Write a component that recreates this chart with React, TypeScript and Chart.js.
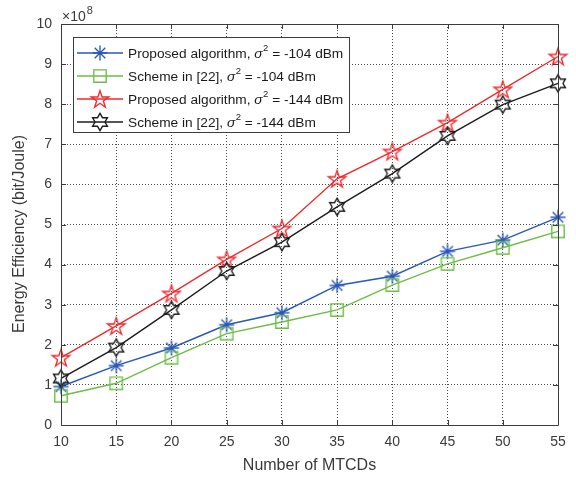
import React, { useEffect, useRef } from 'react';
import { Chart, registerables } from 'chart.js';

Chart.register(...registerables);

const FONT = "'Liberation Sans', Arial, Helvetica, sans-serif";

const mtcds = [10, 15, 20, 25, 30, 35, 40, 45, 50, 55];
const proposed104 = [0.96, 1.48, 1.92, 2.5, 2.8, 3.48, 3.71, 4.33, 4.61, 5.18];
const scheme104 = [0.73, 1.04, 1.68, 2.28, 2.57, 2.87, 3.49, 4.02, 4.42, 4.83];
const proposed144 = [1.68, 2.47, 3.28, 4.13, 4.9, 6.14, 6.82, 7.54, 8.37, 9.19];
const scheme144 = [1.16, 1.93, 2.87, 3.84, 4.56, 5.44, 6.27, 7.21, 7.99, 8.52];

const xTicks = [10, 15, 20, 25, 30, 35, 40, 45, 50, 55];
const yTicks = [0, 1, 2, 3, 4, 5, 6, 7, 8, 9, 10];

const seriesValues = [proposed104, scheme104, proposed144, scheme144];
const seriesColors = ['#2a58b8', '#6cbd45', '#ee2a2e', '#1c1c1c'];
const seriesMarkers = ['asterisk', 'square', 'pentagram', 'hexagram'];
const legendPrefixes = ['Proposed algorithm, ', 'Scheme in [22], ', 'Proposed algorithm, ', 'Scheme in [22], '];
const legendSuffixes = [' = -104 dBm', ' = -104 dBm', ' = -144 dBm', ' = -144 dBm'];

const xTitle = 'Number of MTCDs';
const yTitle = 'Energy Efficiency (bit/Joule)';
const exponentBase = '\u00d710';
const exponentPower = '8';

function makeMarker(kind: string, color: string): HTMLCanvasElement {
  const s = 24;
  const c = document.createElement('canvas');
  c.width = s;
  c.height = s;
  const ctx = c.getContext('2d')!;
  const m = s / 2;
  ctx.strokeStyle = color;
  ctx.lineWidth = 1.35;
  ctx.lineJoin = 'miter';
  ctx.beginPath();
  if (kind === 'asterisk') {
    const r = 7.5;
    [0, 45, 90, 135].forEach((deg) => {
      const a = (deg * Math.PI) / 180;
      ctx.moveTo(m - r * Math.cos(a), m - r * Math.sin(a));
      ctx.lineTo(m + r * Math.cos(a), m + r * Math.sin(a));
    });
  } else if (kind === 'square') {
    const h = 6.2;
    ctx.rect(m - h, m - h, 2 * h, 2 * h);
  } else {
    const n = kind === 'pentagram' ? 5 : 6;
    const R = kind === 'pentagram' ? 9.2 : 8.6;
    const r = kind === 'pentagram' ? R * 0.382 : R * 0.577;
    for (let i = 0; i < 2 * n; i++) {
      const a = -Math.PI / 2 + (i * Math.PI) / n;
      const rr = i % 2 === 0 ? R : r;
      const px = m + rr * Math.cos(a);
      const py = m + rr * Math.sin(a) + (kind === 'pentagram' ? 0.8 : 0);
      if (i === 0) ctx.moveTo(px, py);
      else ctx.lineTo(px, py);
    }
    ctx.closePath();
  }
  ctx.stroke();
  return c;
}

export default function App() {
  const ref = useRef<HTMLCanvasElement | null>(null);

  useEffect(() => {
    document.body.style.margin = '0';
    const canvas = ref.current;
    if (!canvas) return;
    const markers = seriesMarkers.map((k, i) => makeMarker(k, seriesColors[i]));

    const framePlugin = {
      id: 'matlabFrame',
      afterDraw(chart: any) {
        const { ctx, chartArea } = chart;
        const { left, right, top, bottom } = chartArea;
        const xs = chart.scales.x;
        const ys = chart.scales.y;
        ctx.save();
        // box
        ctx.strokeStyle = '#3c3c3c';
        ctx.lineWidth = 1;
        ctx.setLineDash([]);
        ctx.beginPath();
        ctx.rect(Math.round(left) + 0.5, Math.round(top) + 0.5, Math.round(right - left), Math.round(bottom - top));
        ctx.stroke();
        // inward ticks
        const tl = 5;
        ctx.beginPath();
        xTicks.forEach((v) => {
          const px = Math.round(xs.getPixelForValue(v)) + 0.5;
          ctx.moveTo(px, bottom);
          ctx.lineTo(px, bottom - tl);
          ctx.moveTo(px, top);
          ctx.lineTo(px, top + tl);
        });
        yTicks.forEach((v) => {
          const py = Math.round(ys.getPixelForValue(v)) + 0.5;
          ctx.moveTo(left, py);
          ctx.lineTo(left + tl, py);
          ctx.moveTo(right, py);
          ctx.lineTo(right - tl, py);
        });
        ctx.stroke();

        // axis titles
        ctx.fillStyle = '#3a3a3a';
        ctx.font = `16px ${FONT}`;
        ctx.textAlign = 'center';
        ctx.textBaseline = 'middle';
        ctx.fillText(xTitle, (left + right) / 2, 466);
        ctx.save();
        ctx.translate(20, 234);
        ctx.rotate(-Math.PI / 2);
        ctx.fillText(yTitle, 0, 0);
        ctx.restore();

        // exponent label
        ctx.fillStyle = '#3a3a3a';
        ctx.textBaseline = 'alphabetic';
        ctx.textAlign = 'left';
        ctx.font = `14px ${FONT}`;
        ctx.fillText(exponentBase, left + 1, top - 3);
        const bw = ctx.measureText(exponentBase).width;
        ctx.font = `11px ${FONT}`;
        ctx.fillText(exponentPower, left + 1 + bw + 1, top - 10);

        // legend
        const lx = 73;
        const ly = 37;
        const lw = 276;
        const lh = 95;
        ctx.fillStyle = '#ffffff';
        ctx.fillRect(lx, ly, lw, lh);
        ctx.strokeStyle = '#3c3c3c';
        ctx.lineWidth = 1;
        ctx.strokeRect(lx + 0.5, ly + 0.5, lw, lh);
        const rowY = [53, 76, 99, 122];
        seriesColors.forEach((col, i) => {
          const y = rowY[i];
          ctx.strokeStyle = col;
          ctx.lineWidth = 1.4;
          ctx.beginPath();
          ctx.moveTo(77, y);
          ctx.lineTo(123, y);
          ctx.stroke();
          const mk = markers[i];
          ctx.drawImage(mk, 100 - mk.width / 2, y - mk.height / 2);
          let x = 128;
          const by = y + 5;
          ctx.fillStyle = '#1a1a1a';
          ctx.font = `13.7px ${FONT}`;
          ctx.fillText(legendPrefixes[i], x, by);
          x += ctx.measureText(legendPrefixes[i]).width;
          ctx.font = `italic 13.7px ${FONT}`;
          ctx.fillText('\u03c3', x, by);
          x += ctx.measureText('\u03c3').width + 0.5;
          ctx.font = `9.5px ${FONT}`;
          ctx.fillText('2', x, by - 7);
          x += ctx.measureText('2').width;
          ctx.font = `13.7px ${FONT}`;
          ctx.fillText(legendSuffixes[i], x, by);
        });
        ctx.restore();
      },
    };

    const chart = new Chart(canvas, {
      type: 'line',
      data: {
        datasets: seriesValues.map((vals, i) => ({
          label: legendPrefixes[i] + 'σ²' + legendSuffixes[i],
          data: mtcds.map((x, j) => ({ x, y: vals[j] })),
          borderColor: seriesColors[i],
          backgroundColor: seriesColors[i],
          borderWidth: 1.4,
          pointStyle: markers[i] as any,
          pointRadius: 8,
          clip: false as any,
          tension: 0,
          order: seriesValues.length - i,
        })),
      },
      options: {
        responsive: false,
        maintainAspectRatio: false,
        animation: false,
        events: [],
        layout: { padding: { left: 0, right: 18, top: 24, bottom: 0 } },
        plugins: {
          legend: { display: false },
          tooltip: { enabled: false },
        },
        scales: {
          x: {
            type: 'linear',
            min: 10,
            max: 55,
            afterFit: (s: any) => {
              s.height = 54;
            },
            afterBuildTicks: (s: any) => {
              s.ticks = xTicks.map((v) => ({ value: v }));
            },
            ticks: {
              font: { family: FONT, size: 14 },
              color: '#3a3a3a',
              padding: 9,
              maxRotation: 0,
              autoSkip: false,
            },
            grid: { color: '#4a4a4a', lineWidth: 1, drawTicks: false },
            border: { display: false, dash: [1, 2] },
            title: { display: false },
          },
          y: {
            type: 'linear',
            min: 0,
            max: 10,
            afterFit: (s: any) => {
              s.width = 61;
            },
            afterBuildTicks: (s: any) => {
              s.ticks = yTicks.map((v) => ({ value: v }));
            },
            ticks: {
              font: { family: FONT, size: 14 },
              color: '#3a3a3a',
              padding: 9,
              autoSkip: false,
            },
            grid: { color: '#4a4a4a', lineWidth: 1, drawTicks: false },
            border: { display: false, dash: [1, 2] },
            title: { display: false },
          },
        },
      },
      plugins: [framePlugin],
    } as any);

    return () => {
      chart.destroy();
    };
  }, []);

  return (
    <div style={{ position: 'fixed', left: 0, top: 0, width: 576, height: 479, background: '#fff' }}>
      <canvas ref={ref} width={576} height={479} style={{ display: 'block', width: 576, height: 479 }} />
    </div>
  );
}
